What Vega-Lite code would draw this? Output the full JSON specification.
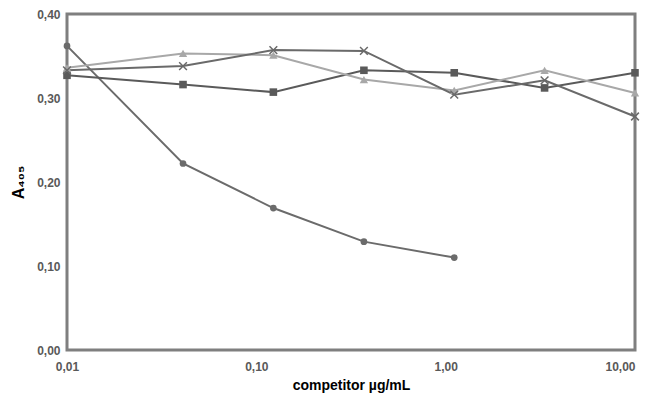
{
  "$schema": "https://vega.github.io/schema/vega-lite/v6.json",
  "width": 568,
  "height": 336,
  "autosize": {"type": "none"},
  "padding": {"left": 67, "top": 14, "right": 10, "bottom": 52},
  "background": "white",
  "config": {
    "view": {"stroke": "#7f7f7f", "strokeWidth": 3},
    "font": "Liberation Sans"
  },
  "data": {
    "values": [
      {"series": "A", "conc": 0.01, "a": 0.362},
      {"series": "A", "conc": 0.041, "a": 0.222},
      {"series": "A", "conc": 0.123, "a": 0.169},
      {"series": "A", "conc": 0.37, "a": 0.129},
      {"series": "A", "conc": 1.11, "a": 0.110},
      {"series": "B", "conc": 0.01, "a": 0.327},
      {"series": "B", "conc": 0.041, "a": 0.316},
      {"series": "B", "conc": 0.123, "a": 0.307},
      {"series": "B", "conc": 0.37, "a": 0.333},
      {"series": "B", "conc": 1.11, "a": 0.330},
      {"series": "B", "conc": 3.33, "a": 0.312},
      {"series": "B", "conc": 10, "a": 0.330},
      {"series": "C", "conc": 0.01, "a": 0.336},
      {"series": "C", "conc": 0.041, "a": 0.353},
      {"series": "C", "conc": 0.123, "a": 0.351},
      {"series": "C", "conc": 0.37, "a": 0.322},
      {"series": "C", "conc": 1.11, "a": 0.309},
      {"series": "C", "conc": 3.33, "a": 0.333},
      {"series": "C", "conc": 10, "a": 0.306},
      {"series": "D", "conc": 0.01, "a": 0.333},
      {"series": "D", "conc": 0.041, "a": 0.338},
      {"series": "D", "conc": 0.123, "a": 0.357},
      {"series": "D", "conc": 0.37, "a": 0.356},
      {"series": "D", "conc": 1.11, "a": 0.304},
      {"series": "D", "conc": 3.33, "a": 0.321},
      {"series": "D", "conc": 10, "a": 0.278}
    ]
  },
  "encoding": {
    "x": {
      "field": "conc", "type": "quantitative",
      "scale": {"type": "log", "domain": [0.01, 10], "nice": false},
      "axis": {
        "values": [0.01, 0.1, 1, 10],
        "labelExpr": "replace(format(datum.value, '.2f'), '.', ',')",
        "grid": false, "ticks": false, "domain": false,
        "labelPadding": 11, "labelFontSize": 12, "labelFontWeight": "bold", "labelColor": "#595959",
        "labelAlign": {"condition": {"test": "datum.value === 10", "value": "right"}, "value": "center"},
        "title": "competitor µg/mL", "titleFontSize": 14, "titleFontWeight": "bold", "titleColor": "#000000",
        "titlePadding": 6, "labelFlush": false
      }
    },
    "y": {
      "field": "a", "type": "quantitative",
      "scale": {"domain": [0, 0.4], "nice": false, "zero": true},
      "axis": {
        "values": [0, 0.1, 0.2, 0.3, 0.4],
        "labelExpr": "replace(format(datum.value, '.2f'), '.', ',')",
        "grid": false, "ticks": false, "domain": false,
        "labelPadding": 7, "labelFontSize": 12, "labelFontWeight": "bold", "labelColor": "#595959",
        "title": "A₄₀₅", "titleFontSize": 16, "titleFontWeight": "bold", "titleColor": "#000000",
        "titlePadding": 10
      }
    },
    "color": {
      "field": "series", "type": "nominal",
      "scale": {"domain": ["A", "B", "C", "D"], "range": ["#6b6b6b", "#5a5a5a", "#a8a8a8", "#6a6a6a"]},
      "legend": null
    }
  },
  "layer": [
    {
      "mark": {"type": "line", "strokeWidth": 2},
      "encoding": {"detail": {"field": "series"}}
    },
    {
      "transform": [{"filter": "datum.series !== 'D'"}],
      "mark": {"type": "point", "filled": true, "opacity": 1},
      "encoding": {
        "shape": {
          "field": "series", "type": "nominal",
          "scale": {"domain": ["A", "B", "C"], "range": ["circle", "square", "triangle-up"]},
          "legend": null
        },
        "size": {
          "field": "series", "type": "nominal",
          "scale": {"domain": ["A", "B", "C"], "range": [45, 70, 60]},
          "legend": null
        }
      }
    },
    {
      "transform": [{"filter": "datum.series === 'D'"}],
      "mark": {"type": "point", "filled": false, "shape": "M-1,-1L1,1M-1,1L1,-1", "size": 60, "strokeWidth": 1.5, "opacity": 1}
    }
  ]
}
